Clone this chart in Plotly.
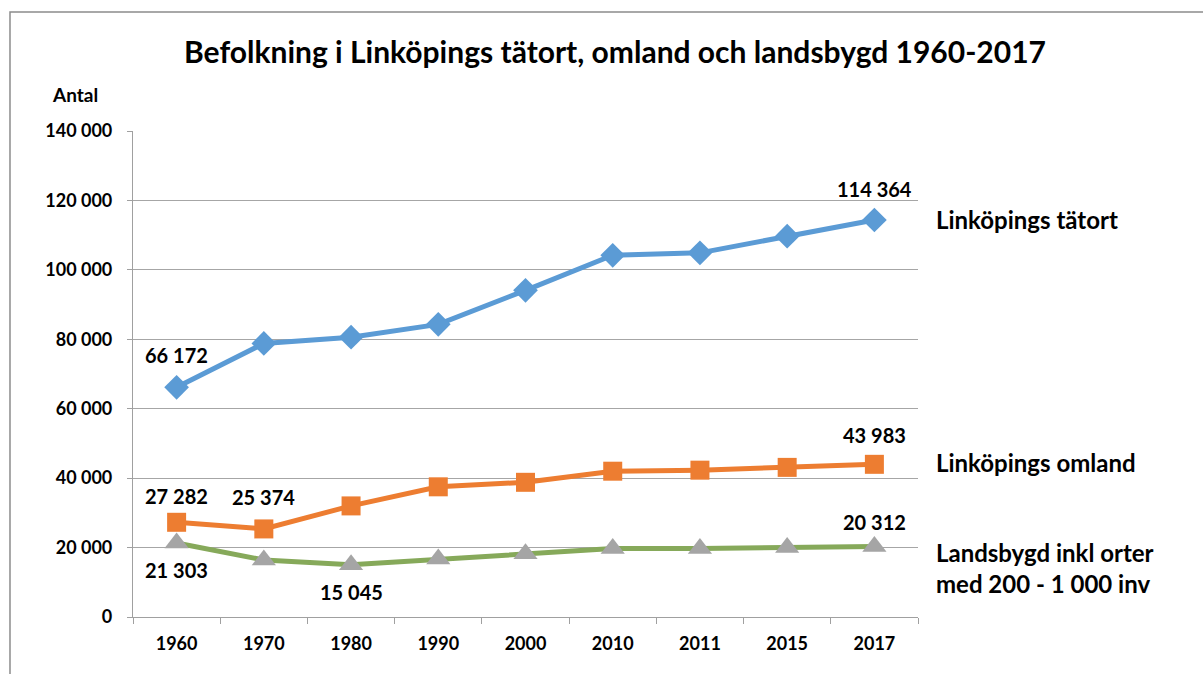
import plotly.graph_objects as go

years = ["1960", "1970", "1980", "1990", "2000", "2010", "2011", "2015", "2017"]
tatort = [66172, 78800, 80600, 84300, 94100, 104200, 104900, 109700, 114364]
omland = [27282, 25374, 32000, 37500, 38800, 42000, 42300, 43100, 43983]
landsbygd = [21303, 16400, 15045, 16700, 18200, 19700, 19700, 20000, 20312]

names = ["Linköpings tätort", "Linköpings omland", "Landsbygd inkl orter<br>med 200 - 1 000 inv"]
# which points carry a value label, and pixel offset of the label
label_pts = {
    "tatort": {0: 32, 8: 31},
    "omland": {0: 26, 1: 32, 8: 29},
    "landsbygd": {0: -27, 2: -27, 8: 24},
}

FONT = "Lato, 'Open Sans', sans-serif"


def fmt(v):
    return f"{v:,}".replace(",", " ")


fig = go.Figure()

series = [
    ("tatort", tatort, "#5B9BD5", "#5B9BD5", "diamond", 19),
    ("omland", omland, "#ED7D31", "#ED7D31", "square", 19),
    ("landsbygd", landsbygd, "#86A95A", "#A5A5A5", "triangle-up", 21),
]
for key, vals, lc, mc, sym, ms in series:
    fig.add_trace(go.Scatter(
        x=years, y=vals, mode="lines+markers",
        line=dict(color=lc, width=5),
        marker=dict(symbol=sym, size=ms, color=mc, line=dict(width=0)),
        cliponaxis=False, showlegend=False,
    ))
    for i, off in label_pts[key].items():
        fig.add_annotation(
            x=i, y=vals[i], xref="x", yref="y", yshift=off,
            text=fmt(vals[i]), showarrow=False, xanchor="center", yanchor="middle",
            font=dict(family=FONT, size=20, color="#000000", weight="bold"),
        )

# series labels on the right
label_y = [tatort[-1], omland[-1], landsbygd[-1]]
label_off = [0, 2, -22]
for name, yv, off in zip(names, label_y, label_off):
    fig.add_annotation(
        x=1.021, xref="paper", y=yv, yref="y", yshift=off,
        text=name, showarrow=False, xanchor="left", yanchor="middle", align="left",
        font=dict(family=FONT, size=24, color="#000000", weight="bold"),
    )

fig.add_annotation(
    x=-0.106, xref="paper", y=1.075, yref="paper", text="Antal", showarrow=False,
    xanchor="left", yanchor="middle",
    font=dict(family=FONT, size=19, color="#000000", weight="bold"),
)

# chart border
fig.add_shape(type="rect", xref="paper", yref="paper",
              x0=-0.1567, x1=1.38, y0=-0.14, y1=1.2449,
              line=dict(color="#8C8C8C", width=1.5), layer="below")

fig.update_layout(
    width=1203, height=674,
    margin=dict(l=133, r=285, t=131, b=57),
    paper_bgcolor="white", plot_bgcolor="white",
    separators=". ",
    title=dict(text="Befolkning i Linköpings tätort, omland och landsbygd 1960-2017",
               x=615 / 1203, xanchor="center", y=1 - 52 / 674, yanchor="middle",
               font=dict(family=FONT, size=30, color="#000000", weight="bold")),
    xaxis=dict(
        type="category", showgrid=False, showline=True, linecolor="#A0A0A0", linewidth=1.2,
        ticks="outside", tickson="boundaries", ticklen=6, tickcolor="#A0A0A0",
        ticklabelstandoff=10,
        tickfont=dict(family=FONT, size=18, color="#000000", weight="bold"),
        range=[-0.5, len(years) - 0.5],
    ),
    yaxis=dict(
        range=[0, 140000], dtick=20000, tickformat=",d",
        showgrid=True, gridcolor="#A6A6A6", gridwidth=1.2,
        showline=True, linecolor="#A0A0A0", linewidth=1.2,
        ticks="outside", ticklen=5, tickcolor="#A0A0A0",
        ticklabelstandoff=11, zeroline=False,
        tickfont=dict(family=FONT, size=18, color="#000000", weight="bold"),
    ),
)

fig.write_html("out.html", config={"displayModeBar": False},
               post_script="document.body.style.margin='0';")
